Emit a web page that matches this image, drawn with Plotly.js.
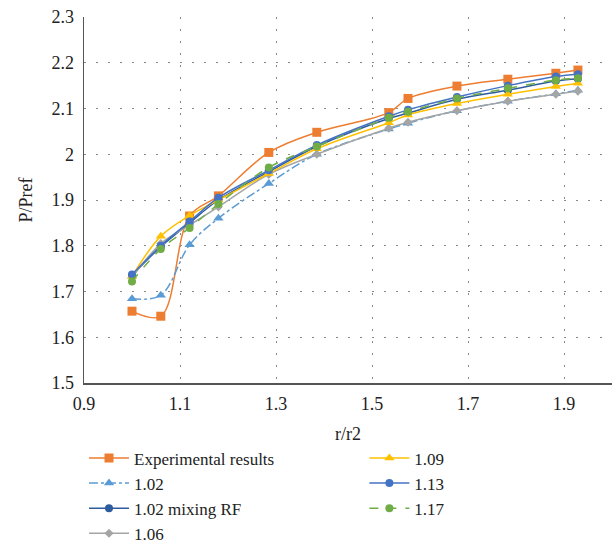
<!DOCTYPE html>
<html>
<head>
<meta charset="utf-8">
<script src="https://cdn.plot.ly/plotly-3.0.1.min.js"></script>
<style>html,body{margin:0;padding:0;background:#fff;}#chart{width:616px;height:546px;}</style>
</head>
<body>
<div id="chart"></div>
<script>
const xVals = [1.0, 1.06, 1.12, 1.18, 1.285, 1.385, 1.535, 1.575, 1.677, 1.783, 1.883, 1.929];
const xTicks = [0.9, 1.1, 1.3, 1.5, 1.7, 1.9];
const yTicks = [1.5, 1.6, 1.7, 1.8, 1.9, 2, 2.1, 2.2, 2.3];

const seriesNames = ["Experimental results", "1.02", "1.02 mixing RF", "1.06", "1.09", "1.13", "1.17"];
const experimental = [1.657, 1.646, 1.865, 1.909, 2.004, 2.048, 2.091, 2.122, 2.149, 2.164, 2.177, 2.184];
const s102 = [1.684, 1.692, 1.802, 1.860, 1.936, 2.000, 2.055, 2.068, 2.095, 2.116, 2.132, 2.140];
const s102mix = [1.735, 1.798, 1.850, 1.900, 1.962, 2.017, 2.078, 2.090, 2.120, 2.140, 2.160, 2.165];
const s106 = [1.730, 1.805, 1.845, 1.885, 1.956, 2.000, 2.057, 2.070, 2.095, 2.116, 2.131, 2.138];
const s109 = [1.733, 1.821, 1.866, 1.900, 1.958, 2.012, 2.069, 2.086, 2.111, 2.131, 2.148, 2.155];
const s113 = [1.737, 1.800, 1.853, 1.905, 1.965, 2.020, 2.083, 2.097, 2.125, 2.150, 2.170, 2.175];
const s117 = [1.722, 1.793, 1.839, 1.891, 1.971, 2.017, 2.080, 2.093, 2.122, 2.144, 2.162, 2.166];

const FONT = "Liberation Serif";

function tr(name, y, color, dash, symbol, size, legend) {
  return {
    x: xVals, y: y, name: name, type: "scatter", mode: "lines+markers",
    line: {color: color, width: 1.5, dash: dash, shape: "spline", smoothing: 1},
    marker: {color: color, symbol: symbol, size: size},
    legend: legend
  };
}

const data = [
  tr(seriesNames[0], experimental, "#ED7D31", "solid", "square", 9, "legend"),
  tr(seriesNames[1], s102, "#5B9BD5", "dashdot", "triangle-up", 9, "legend"),
  tr(seriesNames[2], s102mix, "#2E5C9E", "solid", "circle", 8, "legend"),
  tr(seriesNames[3], s106, "#A5A5A5", "solid", "diamond", 7, "legend"),
  tr(seriesNames[4], s109, "#FFC000", "solid", "triangle-up", 9, "legend2"),
  tr(seriesNames[5], s113, "#4472C4", "solid", "circle", 8, "legend2"),
  tr(seriesNames[6], s117, "#70AD47", "dash", "circle", 8, "legend2")
];

const layout = {
  width: 616, height: 546,
  margin: {l: 84, r: 4, t: 17, b: 163, autoexpand: false},
  paper_bgcolor: "#fff", plot_bgcolor: "#fff",
  font: {family: FONT, size: 18, color: "#222"},
  showlegend: true,
  xaxis: {
    range: [0.9, 2.0], tickvals: xTicks, ticktext: xTicks.map(String),
    showgrid: true, gridcolor: "#8a8a8a", griddash: "2px,10px", gridwidth: 1,
    showline: true, linecolor: "#555", linewidth: 1.5, ticks: "", zeroline: false,
    ticklabelstandoff: 4,
    tickfont: {family: FONT, size: 18, color: "#222"},
    title: {text: "r/r2", font: {family: FONT, size: 18, color: "#222"}, standoff: 14}
  },
  yaxis: {
    range: [1.5, 2.3], tickvals: yTicks, ticktext: yTicks.map(String),
    showgrid: true, gridcolor: "#8a8a8a", griddash: "2px,10px", gridwidth: 1,
    showline: true, linecolor: "#555", linewidth: 1.5, ticks: "", zeroline: false,
    ticklabelstandoff: 5,
    tickfont: {family: FONT, size: 18, color: "#222"},
    title: {text: "P/Pref", font: {family: FONT, size: 18, color: "#222"}, standoff: 14}
  },
  legend: {
    x: 0.0, y: -0.157, xanchor: "left", yanchor: "top", orientation: "v", itemwidth: 40,
    font: {family: FONT, size: 17, color: "#222"}, bgcolor: "rgba(0,0,0,0)", tracegroupgap: 0
  },
  legend2: {
    x: 0.531, y: -0.157, xanchor: "left", yanchor: "top", orientation: "v", itemwidth: 40,
    font: {family: FONT, size: 17, color: "#222"}, bgcolor: "rgba(0,0,0,0)", tracegroupgap: 0
  }
};

Plotly.newPlot("chart", data, layout, {displayModeBar: false, staticPlot: true});
</script>
</body>
</html>
